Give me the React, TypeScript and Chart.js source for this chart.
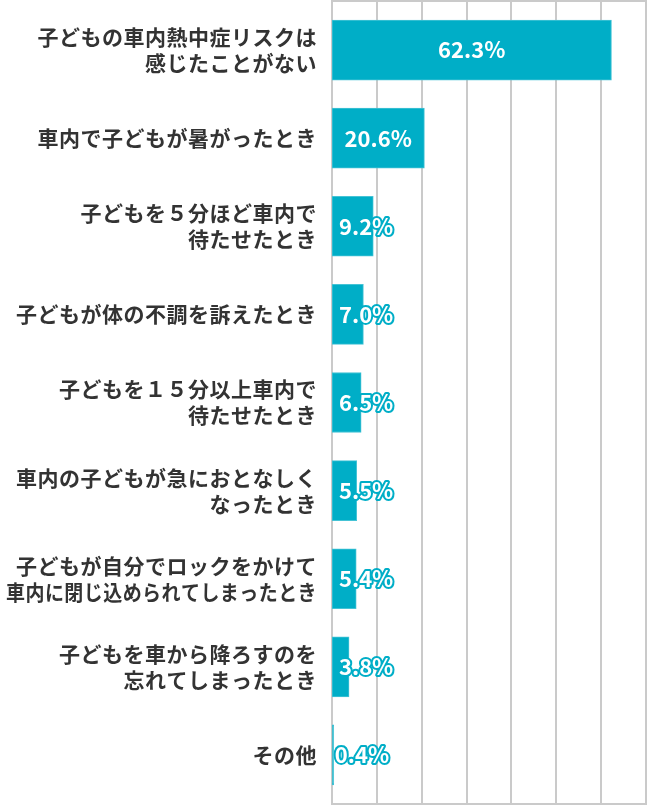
import { useEffect, useRef } from 'react';
import { Chart, registerables } from 'chart.js';

Chart.register(...registerables);

const categories: string[][] = [
  ['子どもの車内熱中症リスクは', '感じたことがない'],
  ['車内で子どもが暑がったとき'],
  ['子どもを５分ほど車内で', '待たせたとき'],
  ['子どもが体の不調を訴えたとき'],
  ['子どもを１５分以上車内で', '待たせたとき'],
  ['車内の子どもが急におとなしく', 'なったとき'],
  ['子どもが自分でロックをかけて', '車内に閉じ込められてしまったとき'],
  ['子どもを車から降ろすのを', '忘れてしまったとき'],
  ['その他'],
];

const values: number[] = [62.3, 20.6, 9.2, 7.0, 6.5, 5.5, 5.4, 3.8, 0.4];

const xMin = 0;
const xMax = 70;
const xStep = 10;

const BAR = '#00aec7';
const GRID = '#cacaca';
const FONT = '"Noto Sans CJK JP", "Noto Sans", sans-serif';

const framePlugin = {
  id: 'frameGrid',
  beforeDatasetsDraw(chart: any) {
    const { ctx } = chart;
    const xs = chart.scales.x;
    const top = 1;
    const bottom = chart.height - 2;
    ctx.save();
    ctx.strokeStyle = GRID;
    ctx.lineWidth = 2;
    ctx.beginPath();
    for (let v = xMin; v <= xMax; v += xStep) {
      const px = Math.round(xs.getPixelForValue(v));
      ctx.moveTo(px, 0);
      ctx.lineTo(px, chart.height - 1);
    }
    const l = xs.getPixelForValue(xMin);
    const r = xs.getPixelForValue(xMax);
    ctx.moveTo(l, top);
    ctx.lineTo(r + 1, top);
    ctx.moveTo(l, bottom);
    ctx.lineTo(r + 1, bottom);
    ctx.stroke();
    ctx.restore();
  },
};

const categoryLabelPlugin = {
  id: 'categoryLabels',
  afterDraw(chart: any) {
    const { ctx } = chart;
    const ys = chart.scales.y;
    const right = chart.chartArea.left - 15;
    const lh = 26;
    ctx.save();
    ctx.font = `bold 21px ${FONT}`;
    (ctx as any).letterSpacing = '0.5px';
    ctx.fillStyle = '#333333';
    ctx.textAlign = 'right';
    ctx.textBaseline = 'middle';
    categories.forEach((lines, i) => {
      const cy = ys.getPixelForValue(i);
      const y0 = cy - ((lines.length - 1) * lh) / 2;
      lines.forEach((line, j) => {
        ctx.fillText(line, right, y0 + j * lh, right - 6);
      });
    });
    ctx.restore();
  },
};

const valueLabelPlugin = {
  id: 'valueLabels',
  afterDatasetsDraw(chart: any) {
    const { ctx } = chart;
    const meta = chart.getDatasetMeta(0);
    ctx.save();
    ctx.font = `bold 22px ${FONT}`;
    ctx.textBaseline = 'middle';
    ctx.textAlign = 'left';
    ctx.lineJoin = 'round';
    meta.data.forEach((bar: any, i: number) => {
      const text = values[i].toFixed(1) + '%';
      const w = ctx.measureText(text).width;
      const start = bar.base;
      const end = bar.x;
      let x: number;
      if (w + 12 < end - start) {
        x = (start + end) / 2 - w / 2;
      } else {
        x = Math.min(start + 7, end + 1);
      }
      ctx.strokeStyle = BAR;
      ctx.lineWidth = 4;
      ctx.strokeText(text, x, bar.y);
      ctx.fillStyle = '#ffffff';
      ctx.fillText(text, x, bar.y);
    });
    ctx.restore();
  },
};

export default function App() {
  const ref = useRef<HTMLCanvasElement>(null);
  useEffect(() => {
    if (!ref.current) return;
    const chart = new Chart(ref.current, {
      type: 'bar',
      data: {
        labels: categories.map((c) => c.join('')),
        datasets: [
          {
            data: values,
            backgroundColor: BAR,
            borderColor: '#45c3d5',
            borderWidth: 1,
            borderSkipped: false,
            barThickness: 60,
          },
        ],
      },
      options: {
        indexAxis: 'y',
        animation: false,
        responsive: true,
        maintainAspectRatio: false,
        layout: { padding: { top: 6, bottom: 7, left: 0, right: 16 } },
        plugins: {
          legend: { display: false },
          tooltip: { enabled: false },
        },
        scales: {
          x: {
            display: false,
            min: xMin,
            max: xMax,
            ticks: { stepSize: xStep },
          },
          y: {
            display: true,
            grid: { display: false, drawTicks: false },
            border: { display: false },
            ticks: { display: false },
            afterFit(scale: any) {
              scale.width = 332;
            },
          },
        },
      },
      plugins: [framePlugin, valueLabelPlugin, categoryLabelPlugin],
    });
    return () => chart.destroy();
  }, []);
  return (
    <div style={{ position: 'absolute', left: 0, top: 0, width: 662, height: 806 }}>
      <canvas ref={ref} />
    </div>
  );
}
